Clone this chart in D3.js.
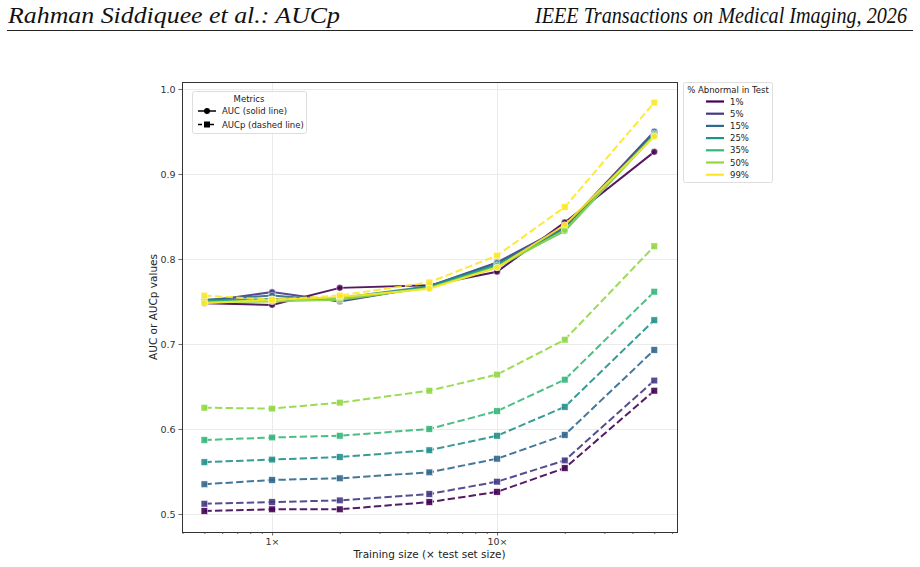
<!DOCTYPE html>
<html>
<head>
<meta charset="utf-8">
<script src="https://cdn.jsdelivr.net/npm/d3@7"></script>
<style>
  body { margin: 0; background: #fff; }
  svg { display: block; font-family: "DejaVu Sans", sans-serif; }
</style>
</head>
<body>
<svg id="chart" width="920" height="567"></svg>
<script>
// training size multiples (x test set size)
const trainSizes = [0.5, 1, 2, 5, 10, 20, 50];
const prevalences = ["1%", "5%", "15%", "25%", "35%", "50%", "99%"];
const colors = ["#440154", "#443983", "#31688e", "#21918c", "#35b779", "#90d743", "#fde725"];

// AUC (solid) per prevalence
const auc1 = [0.748, 0.746, 0.766, 0.769, 0.785, 0.843, 0.926];
const auc5 = [0.750, 0.761, 0.750, 0.768, 0.796, 0.838, 0.950];
const auc15 = [0.752, 0.757, 0.751, 0.768, 0.795, 0.836, 0.948];
const auc25 = [0.751, 0.753, 0.754, 0.768, 0.793, 0.835, 0.947];
const auc35 = [0.750, 0.752, 0.754, 0.766, 0.792, 0.833, 0.946];
const auc50 = [0.749, 0.750, 0.752, 0.766, 0.790, 0.834, 0.945];
const auc99 = [0.748, 0.752, 0.755, 0.765, 0.790, 0.840, 0.944];

// AUCp (dashed) per prevalence
const aucp1 = [0.5035, 0.5055, 0.5055, 0.514, 0.526, 0.554, 0.645];
const aucp5 = [0.512, 0.514, 0.516, 0.5235, 0.538, 0.563, 0.657];
const aucp15 = [0.535, 0.540, 0.542, 0.549, 0.565, 0.593, 0.693];
const aucp25 = [0.561, 0.564, 0.567, 0.575, 0.592, 0.626, 0.728];
const aucp35 = [0.587, 0.590, 0.592, 0.600, 0.621, 0.658, 0.7615];
const aucp50 = [0.625, 0.624, 0.631, 0.645, 0.664, 0.705, 0.815];
const aucp99 = [0.757, 0.752, 0.757, 0.7725, 0.804, 0.861, 0.984];

const aucSeries = [auc1, auc5, auc15, auc25, auc35, auc50, auc99];
const aucpSeries = [aucp1, aucp5, aucp15, aucp25, aucp35, aucp50, aucp99];

const yTicks = [0.5, 0.6, 0.7, 0.8, 0.9, 1.0];
const xTicks = [1, 10];
const xMinor = [0.4, 0.5, 0.6, 0.7, 0.8, 0.9, 2, 3, 4, 5, 6, 7, 8, 9, 20, 30, 40, 50, 60];

const svg = d3.select("#chart");

// page header (LaTeX-like italic serif)
svg.append("text").attr("x", 8).attr("y", 23)
  .attr("font-family", "'Liberation Serif', serif").attr("font-style", "italic")
  .attr("font-size", 24).attr("fill", "#111")
  .attr("textLength", 332).attr("lengthAdjust", "spacingAndGlyphs")
  .text("Rahman Siddiquee et al.: AUCp");
svg.append("text").attr("x", 535).attr("y", 23)
  .attr("font-family", "'Liberation Serif', serif").attr("font-style", "italic")
  .attr("font-size", 24).attr("fill", "#111")
  .attr("textLength", 372).attr("lengthAdjust", "spacingAndGlyphs")
  .text("IEEE Transactions on Medical Imaging, 2026");
svg.append("line").attr("x1", 7).attr("x2", 913).attr("y1", 30.5).attr("y2", 30.5)
  .attr("stroke", "#222").attr("stroke-width", 1);

const pLeft = 182, pRight = 677, pTop = 82, pBottom = 532;

const x = d3.scaleLog().domain([0.3977, 63.1]).range([pLeft, pRight]);
const y = d3.scaleLinear().domain([0.4788, 1.0082]).range([pBottom, pTop]);

const g = svg.append("g");

// grid
g.selectAll(".gy").data(yTicks).enter().append("line")
  .attr("x1", pLeft).attr("x2", pRight)
  .attr("y1", d => Math.round(y(d)) + 0.5).attr("y2", d => Math.round(y(d)) + 0.5)
  .attr("stroke", "#ebebeb").attr("stroke-width", 1);
g.selectAll(".gx").data(xTicks).enter().append("line")
  .attr("y1", pTop).attr("y2", pBottom)
  .attr("x1", d => Math.round(x(d)) + 0.5).attr("x2", d => Math.round(x(d)) + 0.5)
  .attr("stroke", "#ebebeb").attr("stroke-width", 1);

// axes
const yAxis = g.append("g").attr("transform", `translate(${pLeft},0)`)
  .call(d3.axisLeft(y).tickValues(yTicks).tickFormat(d3.format(".1f")).tickSize(3.5).tickPadding(3));
const xAxis = g.append("g").attr("transform", `translate(0,${pBottom})`)
  .call(d3.axisBottom(x).tickValues(xTicks).tickFormat(d => d + "×").tickSize(3.5).tickPadding(3));
g.append("g").attr("transform", `translate(0,${pBottom})`)
  .call(d3.axisBottom(x).tickValues(xMinor).tickFormat("").tickSize(2))
  .select(".domain").remove();
[yAxis, xAxis].forEach(a => {
  a.select(".domain").remove();
  a.selectAll("text").attr("font-size", 9.5).attr("fill", "#333").attr("font-family", "'DejaVu Sans', sans-serif");
});
g.selectAll(".tick line").attr("stroke", "#444").attr("stroke-width", 0.8);

// frame
g.append("rect").attr("x", pLeft + 0.5).attr("y", pTop + 0.5)
  .attr("width", pRight - pLeft).attr("height", pBottom - pTop)
  .attr("fill", "none").attr("stroke", "#333").attr("stroke-width", 1);

// series
const line = d3.line().x((d, i) => x(trainSizes[i])).y(d => y(d));
const plot = g.append("g");
prevalences.forEach((p, k) => {
  const c = colors[k];
  plot.append("path").datum(aucSeries[k]).attr("d", line)
    .attr("fill", "none").attr("stroke", c).attr("stroke-width", 2).attr("stroke-opacity", 0.9);
  plot.append("g").selectAll("circle").data(aucSeries[k]).enter().append("circle")
    .attr("cx", (d, i) => x(trainSizes[i])).attr("cy", d => y(d)).attr("r", 3.3)
    .attr("fill", c).attr("fill-opacity", 0.9).attr("stroke", "#fff").attr("stroke-width", 0.5);
  plot.append("path").datum(aucpSeries[k]).attr("d", line)
    .attr("fill", "none").attr("stroke", c).attr("stroke-width", 2).attr("stroke-opacity", 0.9)
    .attr("stroke-dasharray", "7.4,3.2");
  plot.append("g").selectAll("rect").data(aucpSeries[k]).enter().append("rect")
    .attr("x", (d, i) => x(trainSizes[i]) - 3.3).attr("y", d => y(d) - 3.3)
    .attr("width", 6.6).attr("height", 6.6)
    .attr("fill", c).attr("fill-opacity", 0.9).attr("stroke", "#fff").attr("stroke-width", 0.5);
});

// axis titles
svg.append("text").attr("x", (pLeft + pRight) / 2).attr("y", 558).attr("text-anchor", "middle")
  .attr("font-size", 10.5).attr("fill", "#222").text("Training size (× test set size)");
svg.append("text").attr("transform", `translate(157,${(pTop + pBottom) / 2}) rotate(-90)`)
  .attr("text-anchor", "middle").attr("font-size", 10.5).attr("fill", "#222").text("AUC or AUCp values");

// metrics legend
const ml = svg.append("g").attr("transform", "translate(192,91)");
ml.append("rect").attr("x", 0.5).attr("y", 0.5).attr("width", 114).attr("height", 42).attr("rx", 2)
  .attr("fill", "#fff").attr("fill-opacity", 0.85).attr("stroke", "#ddd");
ml.append("text").attr("x", 57).attr("y", 11).attr("text-anchor", "middle")
  .attr("font-size", 8.5).attr("fill", "#222").text("Metrics");
[["AUC (solid line)", null], ["AUCp (dashed line)", "4,2"]].forEach((e, i) => {
  const yy = 20 + i * 13.5;
  ml.append("line").attr("x1", 6).attr("x2", 24).attr("y1", yy).attr("y2", yy)
    .attr("stroke", "#000").attr("stroke-width", 1.5).attr("stroke-dasharray", e[1]);
  if (i === 0) ml.append("circle").attr("cx", 15).attr("cy", yy).attr("r", 3).attr("fill", "#000");
  else ml.append("rect").attr("x", 12).attr("y", yy - 3).attr("width", 6).attr("height", 6).attr("fill", "#000");
  ml.append("text").attr("x", 30).attr("y", yy + 3).attr("font-size", 8.5).attr("fill", "#222").text(e[0]);
});

// prevalence legend
const pl = svg.append("g").attr("transform", "translate(683,82)");
pl.append("rect").attr("x", 0.5).attr("y", 0.5).attr("width", 89).attr("height", 100).attr("rx", 2)
  .attr("fill", "#fff").attr("stroke", "#ddd");
pl.append("text").attr("x", 45).attr("y", 10.5).attr("text-anchor", "middle")
  .attr("font-size", 8.5).attr("fill", "#222").text("% Abnormal in Test");
prevalences.forEach((p, k) => {
  const yy = 19.5 + k * 12.2;
  pl.append("line").attr("x1", 23).attr("x2", 41).attr("y1", yy).attr("y2", yy)
    .attr("stroke", colors[k]).attr("stroke-width", 2.2);
  pl.append("text").attr("x", 47).attr("y", yy + 3).attr("font-size", 8.5).attr("fill", "#222").text(p);
});
</script>
</body>
</html>
